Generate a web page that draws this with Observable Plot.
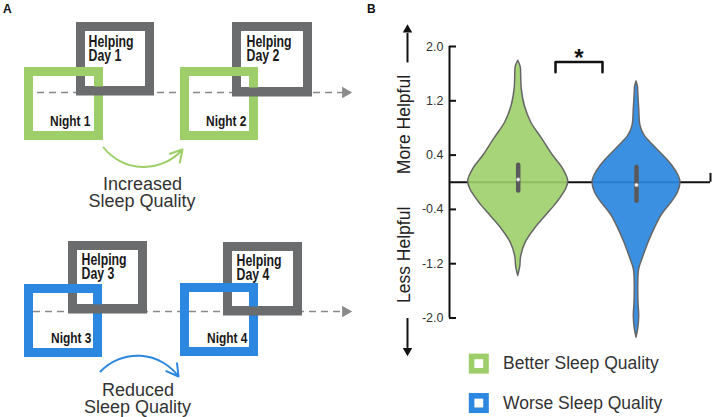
<!DOCTYPE html>
<html>
<head>
<meta charset="utf-8">
<script src="https://cdn.jsdelivr.net/npm/d3@7"></script>
<script src="https://cdn.jsdelivr.net/npm/@observablehq/plot@0.6"></script>
<style>
  html, body { margin: 0; padding: 0; background: #fff; }
  #fig { position: relative; width: 712px; height: 417px; overflow: hidden; font-family: "Liberation Sans", Arial, sans-serif; }
  #panelA { position: absolute; left: 0; top: 0; }
  #panelB { position: absolute; left: 360px; top: 0; }
  .plabel { position: absolute; font-weight: bold; font-size: 12px; color: #111; }
</style>
</head>
<body>
<div id="fig">
  <div id="panelA"></div>
  <div id="panelB"></div>
  <div class="plabel" style="left:3px;top:2px;">A</div>
  <div class="plabel" style="left:367px;top:2px;">B</div>
</div>
<script>
// ---------------- DATA ----------------
// Panel A: diagram labels
const helpingLabels = ["Helping\nDay 1", "Helping\nDay 2", "Helping\nDay 3", "Helping\nDay 4"];
const nightLabels = ["Night 1", "Night 2", "Night 3", "Night 4"];
const transitionLabels = ["Increased\nSleep Quality", "Reduced\nSleep Quality"];

// Panel B: groups and violin outlines (value, half-width of density)
const groups = ["Better Sleep Quality", "Worse Sleep Quality"];
const betterValues = [1.79, 1.70, 1.55, 1.38, 1.13, 0.88, 0.64, 0.39, 0.195, 0.02, -0.10, -0.30, -0.49, -0.69, -0.89, -1.09, -1.25, -1.38];
const betterDensity = [0, 0.025, 0.03, 0.035, 0.065, 0.13, 0.24, 0.35, 0.45, 0.50, 0.48, 0.39, 0.28, 0.165, 0.075, 0.03, 0.02, 0];
const worseValues = [1.485, 1.40, 1.33, 1.08, 0.83, 0.69, 0.54, 0.39, 0.24, 0.10, 0.0, -0.15, -0.30, -0.49, -0.69, -0.89, -1.09, -1.28, -1.48, -1.78, -1.97, -2.16, -2.29];
const worseDensity = [0, 0.015, 0.017, 0.027, 0.04, 0.08, 0.17, 0.27, 0.36, 0.42, 0.44, 0.415, 0.35, 0.25, 0.18, 0.12, 0.07, 0.027, 0.018, 0.02, 0.027, 0.017, 0];
const q1 = [-0.13, -0.28];
const q3 = [0.25, 0.22];
const medians = [0.04, -0.04];
const yTicks = [-2, -1.2, -0.4, 0.4, 1.2, 2];
const yTickLabels = ["-2.0", "-1.2", "-0.4", "0.4", "1.2", "2.0"];
const sideLabels = ["More Helpful", "Less Helpful"];
const significance = "*";

// ---------------- STYLE / LAYOUT ----------------
const GRAY = "#6b6c6e", GREEN = "#9dce6a", BLUE = "#2b87df";
const groupColors = [GREEN, BLUE];
const boldFont = "'Liberation Sans', Arial, sans-serif";

// Panel A layout (diagram units)
const grayBoxes = [
  {x1: 76, x2: 154, y1: 22, y2: 95},
  {x1: 232, x2: 312, y1: 22, y2: 96},
  {x1: 68, x2: 147, y1: 241, y2: 313},
  {x1: 223, x2: 302, y1: 242, y2: 315}
].map((d, i) => ({...d, label: helpingLabels[i], tx: [88, 246, 81, 236][i], ty: [36.5, 36.5, 255, 256][i]}));
const nightBoxes = [
  {x1: 24, x2: 103, y1: 67, y2: 140, c: GREEN},
  {x1: 180, x2: 258, y1: 67, y2: 140, c: GREEN},
  {x1: 24, x2: 102, y1: 284, y2: 357, c: BLUE},
  {x1: 180, x2: 258, y1: 283, y2: 356, c: BLUE}
].map((d, i) => ({...d, label: nightLabels[i], tx: [90, 246, 91, 247][i], ty: [120.5, 120.5, 338, 338][i]}));
const timelines = [{y: 92, x1: 37, x2: 343}, {y: 311, x1: 33, x2: 343}];
const upCurve = [{x1: 103, y1: 147, x2: 182, y2: 149}];
const downCurve = [{x1: 100, y1: 371, x2: 178, y2: 376}];
const captionLines = [
  {t: transitionLabels[0].split("\n")[0], x: 142, y: 183.5},
  {t: transitionLabels[0].split("\n")[1], x: 141.5, y: 201},
  {t: transitionLabels[1].split("\n")[0], x: 137.5, y: 390},
  {t: transitionLabels[1].split("\n")[1], x: 137, y: 406.5}
];

const baseStyle = {fontFamily: "'Liberation Sans', Arial, sans-serif", background: "transparent", color: "#222"};

const plotA = Plot.plot({
  width: 360, height: 417, margin: 0,
  x: {domain: [0, 360], axis: null},
  y: {domain: [0, 417], reverse: true, axis: null},
  color: {type: "identity"},
  style: baseStyle,
  marks: [
    Plot.ruleY(timelines, {y: "y", x1: "x1", x2: "x2", stroke: "#8a8a8a", strokeWidth: 1.5, strokeDasharray: "7,5"}),
    Plot.dot(timelines, {x: 345, y: "y", symbol: "triangle", r: 4.3, fill: "#8a8a8a", rotate: 90}),
    Plot.rect(grayBoxes, {x1: "x1", x2: "x2", y1: "y1", y2: "y2", inset: 4.5, fill: "none", stroke: GRAY, strokeWidth: 9}),
    Plot.rect(nightBoxes, {x1: "x1", x2: "x2", y1: "y1", y2: "y2", inset: 4.5, fill: "none", stroke: "c", strokeWidth: 9}),
    // interlock: gray bottom edge passes over the night box
    Plot.ruleY(grayBoxes, {y: d => d.y2 - 4.5, x1: "x1", x2: "x2", stroke: GRAY, strokeWidth: 9}),
    Plot.text(grayBoxes, {x: "tx", y: "ty", text: "label", textAnchor: "start", lineAnchor: "top", lineHeight: 0.86, fontSize: 16, fontWeight: "bold", fontFamily: boldFont, fill: "#1a1a1a", className: "narrow"}),
    Plot.text(nightBoxes, {x: "tx", y: "ty", text: "label", textAnchor: "end", fontSize: 15.5, fontWeight: "bold", fontFamily: boldFont, fill: "#1a1a1a", className: "narrow"}),
    Plot.arrow(upCurve, {x1: "x1", y1: "y1", x2: "x2", y2: "y2", bend: -50, stroke: GREEN, strokeWidth: 2, headLength: 10}),
    Plot.arrow(downCurve, {x1: "x1", y1: "y1", x2: "x2", y2: "y2", bend: 50, stroke: BLUE, strokeWidth: 2, headLength: 10}),
    Plot.text(captionLines, {x: "x", y: "y", text: "t", fontSize: 18, fill: "#333"})
  ]
});
// condense the bold labels horizontally (narrow bold type), anchored at each label's own position
plotA.querySelectorAll("g.narrow text").forEach(el => {
  const t = el.getAttribute("transform");
  if (t) {
    el.setAttribute("transform", t + " scale(0.77,1)");
  } else {
    const x = +el.getAttribute("x") || 0, y = +el.getAttribute("y") || 0;
    el.setAttribute("transform", `translate(${x},${y}) scale(0.77,1) translate(${-x},${-y})`);
  }
});
document.getElementById("panelA").appendChild(plotA);

// Panel B
const groupX = [0.687, 1.87];
const rowsFor = (vals, dens, i) => vals.map((v, j) => ({group: groups[i], y: v, x1: groupX[i] - dens[j], x2: groupX[i] + dens[j]}));
const betterRows = rowsFor(betterValues, betterDensity, 0);
const worseRows = rowsFor(worseValues, worseDensity, 1);
const boxes = groups.map((g, i) => ({group: g, x: groupX[i], q1: q1[i], q3: q3[i], median: medians[i]}));
const bracket = [{x: 1.06, y: 1.62}, {x: 1.06, y: 1.77}, {x: 1.53, y: 1.77}, {x: 1.53, y: 1.62}];
const sideText = [{t: sideLabels[0], y: 0.85}, {t: sideLabels[1], y: -1.07}];
const sideArrows = [{from: 1.765, to: 2.2, head: 2.247, rot: 0}, {from: -2.0, to: -2.44, head: -2.482, rot: 180}];
const legendItems = groups.map((g, i) => ({label: g, color: groupColors[i], y: [-2.672, -3.253][i]}));

const plotB = Plot.plot({
  width: 352, height: 417,
  marginLeft: 89, marginRight: 2, marginTop: 46, marginBottom: 99.5,
  x: {domain: [0, 2.61], axis: null},
  y: {domain: [-2, 2], axis: null},
  color: {type: "identity"},
  style: baseStyle,
  marks: [
    Plot.ruleY([0], {x1: 0, x2: 2.61, stroke: "#111", strokeWidth: 2}),
    Plot.ruleX([2.61], {y1: 0, y2: 0.13, stroke: "#111", strokeWidth: 2}),
    Plot.areaX(betterRows, {y: "y", x1: "x1", x2: "x2", curve: "catmull-rom", fill: GREEN, fillOpacity: 0.9, stroke: "#666", strokeWidth: 1.5}),
    Plot.areaX(worseRows, {y: "y", x1: "x1", x2: "x2", curve: "catmull-rom", fill: BLUE, fillOpacity: 0.92, stroke: "#666", strokeWidth: 1.5}),
    Plot.ruleX(boxes, {x: "x", y1: "q1", y2: "q3", stroke: "#58595b", strokeWidth: 4.5, strokeLinecap: "round"}),
    Plot.dot(boxes, {x: "x", y: "median", r: 1.8, fill: "white", stroke: "#aaa", strokeWidth: 0.8}),
    Plot.ruleX([0], {y1: -2, y2: 2, stroke: "#111", strokeWidth: 2}),
    Plot.ruleY(yTicks, {x1: 0, x2: 0.07, stroke: "#111", strokeWidth: 2}),
    Plot.axisY(yTicks, {anchor: "left", tickSize: 0, tickPadding: 6, fontSize: 12.5, fill: "#333", label: null,
      tickFormat: d => yTickLabels[yTicks.indexOf(d)]}),
    Plot.line(bracket, {x: "x", y: "y", stroke: "#111", strokeWidth: 2.5}),
    Plot.text([significance], {x: 1.295, y: 1.97, text: d => d, lineAnchor: "top", fontSize: 24, fontWeight: "bold", fill: "#111"}),
    Plot.text(sideText, {x: -0.45, y: "y", text: "t", rotate: -90, fontSize: 17.5, fill: "#222"}),
    Plot.link(sideArrows, {x1: -0.42, x2: -0.42, y1: "from", y2: "to", stroke: "#111", strokeWidth: 2}),
    Plot.dot(sideArrows, {x: -0.42, y: "head", symbol: "triangle", r: 3.5, fill: "#111", rotate: "rot"}),
    Plot.dot(legendItems, {x: 0.293, y: "y", symbol: "square", r: 11.3, fill: "color"}),
    Plot.dot(legendItems, {x: 0.293, y: "y", symbol: "square", r: 5, fill: "white"}),
    Plot.text(legendItems, {x: 0.535, y: "y", text: "label", textAnchor: "start", fontSize: 17.5, fill: "#333"})
  ]
});
document.getElementById("panelB").appendChild(plotB);
</script>
</body>
</html>
